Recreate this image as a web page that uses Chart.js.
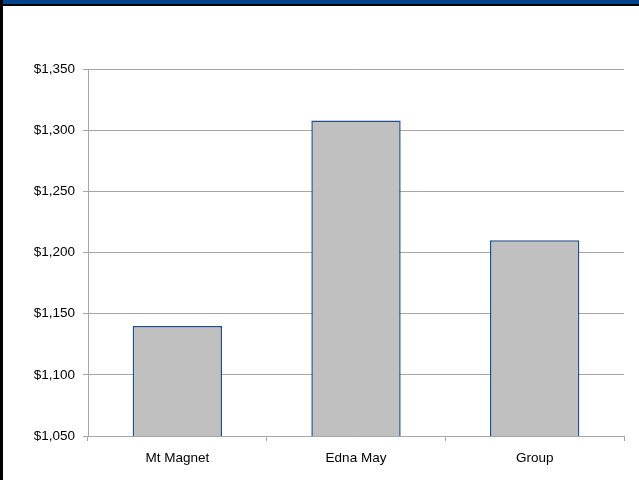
<!DOCTYPE html>
<html>
<head>
<meta charset="utf-8">
<script src="https://cdn.jsdelivr.net/npm/chart.js@4"></script>
<style>
  html, body { margin: 0; padding: 0; background: #fff; }
  #frame { position: relative; width: 639px; height: 480px; overflow: hidden; }
  #band { position: absolute; left: 0; top: 0; width: 639px; height: 4px; background: #00458c; }
  #rule { position: absolute; left: 0; top: 4px; width: 639px; height: 2px; background: #000; }
  #edge { position: absolute; left: 0; top: 0; width: 3px; height: 480px; background: #000; }
  #wrap { position: absolute; left: 0; top: 0; width: 639px; height: 480px; }
</style>
</head>
<body>
<div id="frame">
  <div id="wrap"><canvas id="chart"></canvas></div>
  <div id="band"></div>
  <div id="rule"></div>
  <div id="edge"></div>
</div>
<script>
const mines = ['Mt Magnet', 'Edna May', 'Group'];
const costPerOz = [1140, 1308, 1210];
const yMin = 1050;
const yMax = 1350;
const yStep = 50;

const gridGrey = '#a6a6a6';

new Chart(document.getElementById('chart'), {
  type: 'bar',
  data: {
    labels: mines,
    datasets: [{
      data: costPerOz,
      backgroundColor: '#c0c0c0',
      borderColor: '#1f4e8a',
      borderWidth: 1.5,
      barPercentage: 0.5,
      categoryPercentage: 1,
    }],
  },
  options: {
    responsive: true,
    maintainAspectRatio: false,
    animation: false,
    layout: { padding: { top: 69, right: 15, bottom: 0, left: 0 } },
    plugins: {
      legend: { display: false },
      tooltip: { enabled: false },
    },
    scales: {
      x: {
        afterFit: s => { s.height = 44; },
        grid: {
          drawOnChartArea: false,
          drawTicks: true,
          tickLength: 5,
          color: gridGrey,
          offset: true,
        },
        border: { color: gridGrey },
        ticks: {
          color: '#000',
          padding: 9,
          font: { family: 'Liberation Sans', size: 13.5 },
        },
      },
      y: {
        min: yMin,
        max: yMax,
        afterFit: s => { s.width = 88; },
        grid: { color: gridGrey, tickLength: 5 },
        border: { color: gridGrey },
        ticks: {
          stepSize: yStep,
          color: '#000',
          padding: 8,
          font: { family: 'Liberation Sans', size: 13.5 },
          callback: v => '$' + v.toLocaleString('en-US'),
        },
      },
    },
  },
});
</script>
</body>
</html>
